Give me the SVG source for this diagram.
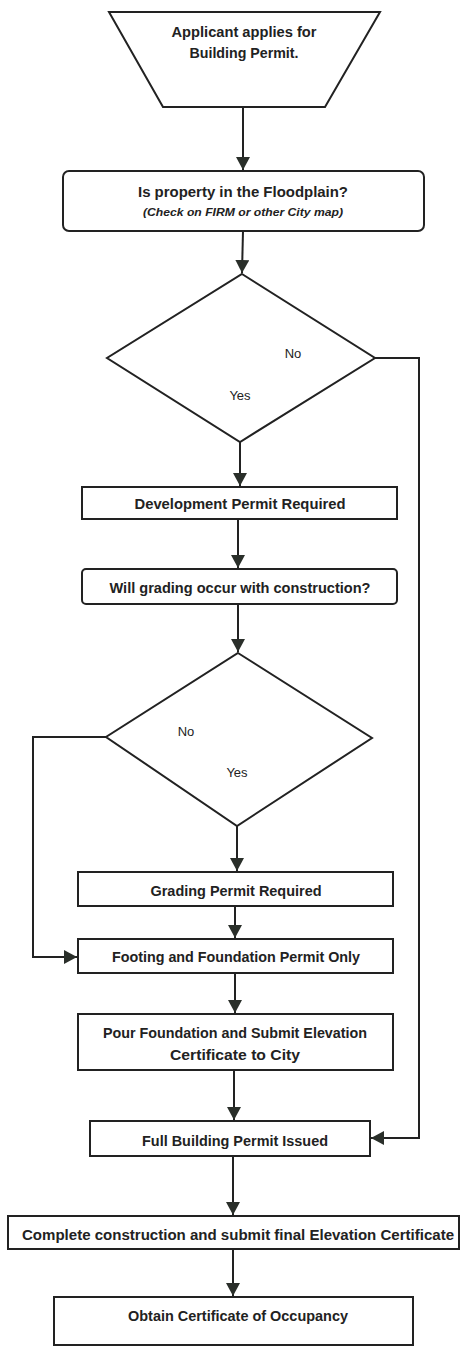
<svg xmlns="http://www.w3.org/2000/svg" width="460" height="1349" viewBox="0 0 460 1349">
<style>
.shape{fill:#fff;stroke:#222;stroke-width:2}
.t{font-family:"Liberation Sans",Arial,sans-serif;font-weight:bold;font-size:14px;fill:#222;text-anchor:middle}
.s{font-size:11px;font-style:italic}
.lbl{font-family:"Liberation Sans",Arial,sans-serif;font-size:13px;fill:#222;text-anchor:middle}
.c{fill:none;stroke:#222;stroke-width:2}
</style>
<defs>
<marker id="ah" markerUnits="userSpaceOnUse" markerWidth="14" markerHeight="14" viewBox="0 0 14 14" refX="13" refY="7" orient="auto">
<path d="M0,0 L13,7 L0,14 Z" fill="#2a2f2a"/>
</marker>
</defs>
<rect width="460" height="1349" fill="#fff"/>
<g id="connectors">
<path class="c" d="M243,107 L243,170" marker-end="url(#ah)"/>
<path class="c" d="M243,231 L242,273" marker-end="url(#ah)"/>
<path class="c" d="M240,442 L240,486" marker-end="url(#ah)"/>
<path class="c" d="M238,519 L238,568" marker-end="url(#ah)"/>
<path class="c" d="M238,604 L238,652" marker-end="url(#ah)"/>
<path class="c" d="M237,826 L237,871" marker-end="url(#ah)"/>
<path class="c" d="M235,906 L235,938" marker-end="url(#ah)"/>
<path class="c" d="M235,973 L235,1013" marker-end="url(#ah)"/>
<path class="c" d="M234,1070 L234,1120" marker-end="url(#ah)"/>
<path class="c" d="M233,1156 L233,1215" marker-end="url(#ah)"/>
<path class="c" d="M233,1249 L233,1296" marker-end="url(#ah)"/>
<path class="c" d="M375,358 L419,358 L419,1138 L371,1138" marker-end="url(#ah)"/>
<path class="c" d="M106,737 L33,737 L33,957 L77,957" marker-end="url(#ah)"/>
</g>
<g id="start">
<polygon class="shape" points="109,12 380,12 325,107 163,107"/>
<text class="t" x="244" y="37" textLength="145" lengthAdjust="spacingAndGlyphs">Applicant applies for</text>
<text class="t" x="244" y="58" textLength="109" lengthAdjust="spacingAndGlyphs">Building Permit.</text>
</g>
<g id="floodplain">
<rect class="shape" x="63" y="171" width="361" height="60" rx="6"/>
<text class="t" x="243" y="197" textLength="210" lengthAdjust="spacingAndGlyphs">Is property in the Floodplain?</text>
<text class="t s" x="243" y="216" textLength="200" lengthAdjust="spacingAndGlyphs">(Check on FIRM or other City map)</text>
</g>
<g id="decision1">
<polygon class="shape" points="242,274 375,358 240,442 107,358"/>
<text class="lbl" x="293" y="358">No</text>
<text class="lbl" x="240" y="400">Yes</text>
</g>
<g id="devpermit">
<rect class="shape" x="82" y="487" width="315" height="32"/>
<text class="t" x="240" y="509" textLength="211" lengthAdjust="spacingAndGlyphs">Development Permit Required</text>
</g>
<g id="grading-q">
<rect class="shape" x="82" y="569" width="315" height="35" rx="4"/>
<text class="t" x="240" y="593" textLength="261" lengthAdjust="spacingAndGlyphs">Will grading occur with construction?</text>
</g>
<g id="decision2">
<polygon class="shape" points="238,653 372,738 237,826 106,737"/>
<text class="lbl" x="186" y="736">No</text>
<text class="lbl" x="237" y="777">Yes</text>
</g>
<g id="gradingpermit">
<rect class="shape" x="78" y="872" width="315" height="34"/>
<text class="t" x="236" y="896" textLength="171" lengthAdjust="spacingAndGlyphs">Grading Permit Required</text>
</g>
<g id="footing">
<rect class="shape" x="78" y="939" width="315" height="34"/>
<text class="t" x="236" y="962" textLength="248" lengthAdjust="spacingAndGlyphs">Footing and Foundation Permit Only</text>
</g>
<g id="pour">
<rect class="shape" x="78" y="1014" width="315" height="56"/>
<text class="t" x="235" y="1038" textLength="264" lengthAdjust="spacingAndGlyphs">Pour Foundation and Submit Elevation</text>
<text class="t" x="235" y="1060" textLength="130" lengthAdjust="spacingAndGlyphs">Certificate to City</text>
</g>
<g id="fullpermit">
<rect class="shape" x="90" y="1121" width="280" height="35"/>
<text class="t" x="235" y="1146" textLength="186" lengthAdjust="spacingAndGlyphs">Full Building Permit Issued</text>
</g>
<g id="complete">
<rect class="shape" x="8" y="1216" width="451" height="33"/>
<text class="t" x="238" y="1240" textLength="432" lengthAdjust="spacingAndGlyphs">Complete construction and submit final Elevation Certificate</text>
</g>
<g id="occupancy">
<rect class="shape" x="54" y="1297" width="359" height="48"/>
<text class="t" x="238" y="1321" textLength="220" lengthAdjust="spacingAndGlyphs">Obtain Certificate of Occupancy</text>
</g>
</svg>
